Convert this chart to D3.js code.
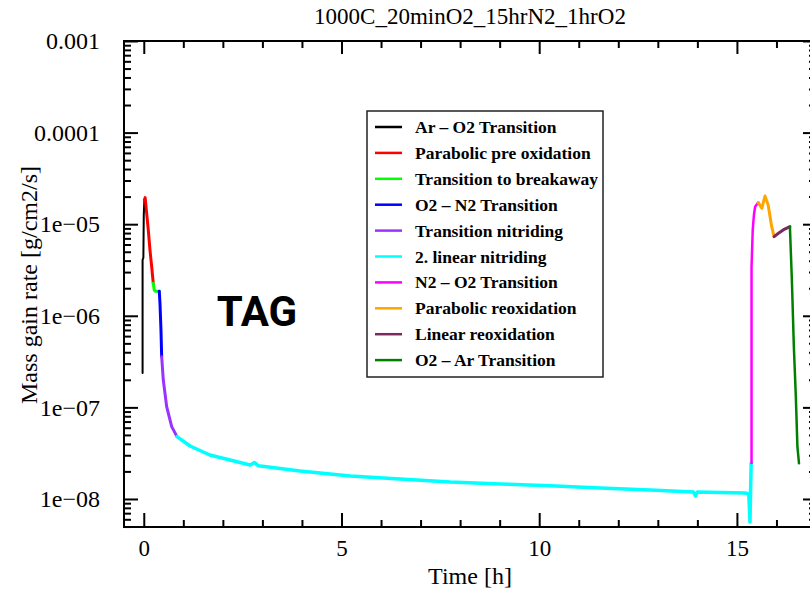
<!DOCTYPE html>
<html><head><meta charset="utf-8">
<script src="https://cdn.jsdelivr.net/npm/d3@7"></script>
<style>body{margin:0;background:#fff}svg{display:block}</style>
</head><body><svg id="c" width="810" height="589"></svg>
<script>
// ---- data (time [h], mass gain rate [g/cm2/s]) ----
const titleText = "1000C_20minO2_15hrN2_1hrO2";
const xLabel = "Time [h]";
const yLabel = "Mass gain rate [g/cm2/s]";
const xTickValues = [0, 5, 10, 15];
const xTickLabels = ["0", "5", "10", "15"];
const yTickValues = [1e-3, 1e-4, 1e-5, 1e-6, 1e-7, 1e-8];
const yTickLabels = ["0.001", "0.0001", "1e\u221205", "1e\u221206", "1e\u221207", "1e\u221208"];

const arO2T = [-0.03, -0.03, -0.01, 0.0, 0.015];
const arO2V = [2.38e-7, 4.07e-6, 4.3e-6, 1.26e-5, 1.84e-5];
const paraPreT = [0.015, 0.035, 0.073, 0.114, 0.157, 0.2, 0.24];
const paraPreV = [1.84e-5, 1.95e-5, 1.32e-5, 8.65e-6, 5.22e-6, 3.44e-6, 2.26e-6];
const breakT = [0.24, 0.265, 0.3, 0.392];
const breakV = [2.26e-6, 1.91e-6, 1.85e-6, 1.85e-6];
const o2n2T = [0.392, 0.41, 0.435, 0.453];
const o2n2V = [1.85e-6, 1.37e-6, 7.0e-7, 3.57e-7];
const transNitT = [0.453, 0.493, 0.579, 0.706, 0.84];
const transNitV = [3.57e-7, 2.0e-7, 1.02e-7, 6.17e-8, 4.79e-8];
const linNitT = [0.84, 1.17, 1.67, 2.69, 2.8, 2.9, 3.95, 5.22, 6.48, 7.75, 9.01, 10.28, 11.54, 12.81, 13.9, 13.95, 14.0, 15.2, 15.3, 15.33, 15.36, 15.37];
const linNitV = [4.79e-8, 3.79e-8, 3.02e-8, 2.35e-8, 2.5e-8, 2.3e-8, 2.02e-8, 1.78e-8, 1.65e-8, 1.53e-8, 1.46e-8, 1.39e-8, 1.32e-8, 1.25e-8, 1.19e-8, 1.08e-8, 1.19e-8, 1.16e-8, 1.14e-8, 5.6e-9, 2.47e-8, 2.47e-8];
const n2o2T = [15.37, 15.37, 15.40, 15.43, 15.46, 15.54];
const n2o2V = [2.47e-8, 3.41e-6, 8.65e-6, 1.26e-5, 1.55e-5, 1.72e-5];
const paraReT = [15.54, 15.63, 15.71, 15.79, 15.88, 15.94];
const paraReV = [1.72e-5, 1.49e-5, 2.03e-5, 1.62e-5, 9.4e-6, 7.31e-6];
const linReT = [15.94, 16.05, 16.17, 16.34];
const linReV = [7.31e-6, 7.96e-6, 8.65e-6, 9.4e-6];
const o2ArT = [16.34, 16.39, 16.44, 16.49, 16.53, 16.57];
const o2ArV = [9.4e-6, 2.46e-6, 4.6e-7, 1.31e-7, 3.72e-8, 2.45e-8];

const seriesNames = ["Ar \u2013 O2 Transition", "Parabolic pre oxidation", "Transition to breakaway",
  "O2 \u2013 N2 Transition", "Transition nitriding", "2. linear nitriding", "N2 \u2013 O2 Transition",
  "Parabolic reoxidation", "Linear reoxidation", "O2 \u2013 Ar Transition"];
const seriesColors = ["#000000", "#ff0000", "#00ff00", "#0000ff", "#9933ff", "#00ffff", "#ff00ff", "#ffa500", "#7a2a5e", "#008000"];
const seriesT = [arO2T, paraPreT, breakT, o2n2T, transNitT, linNitT, n2o2T, paraReT, linReT, o2ArT];
const seriesV = [arO2V, paraPreV, breakV, o2n2V, transNitV, linNitV, n2o2V, paraReV, linReV, o2ArV];
const seriesW = [2, 3, 3, 3, 3, 3.5, 2.5, 3, 3, 2.5];

// ---- layout ----
const L = 124, R = 816, T = 41, B = 527;
const svg = d3.select("#c");
const x = d3.scaleLinear().domain([-0.5, 17]).range([L, R]);
const y = d3.scaleLog().domain([Math.pow(10, -8.306), 1e-3]).range([B, T]);

const serif = "'Liberation Serif', 'Times New Roman', serif";

// minor ticks
const xMinor = d3.range(0, 17.01, 1).filter(v => v % 5 !== 0);
const yMinor = [];
for (let e = -9; e <= -4; e++) for (let m = 2; m <= 9; m++) {
  const v = m * Math.pow(10, e);
  if (v >= y.domain()[0] && v <= y.domain()[1]) yMinor.push(v);
}

function styleAxis(g) {
  g.select(".domain").remove();
  g.selectAll(".tick line").attr("stroke", "#000").attr("stroke-width", 2);
}
// bottom
svg.append("g").attr("transform", `translate(0,${B})`)
  .call(d3.axisBottom(x).tickValues(xTickValues).tickSizeInner(-14).tickSizeOuter(0)
    .tickPadding(13).tickFormat((d, i) => xTickLabels[i]))
  .call(styleAxis)
  .call(g => g.selectAll("text").attr("font-family", serif).attr("font-size", 23).attr("fill", "#000"));
svg.append("g").attr("transform", `translate(0,${B})`)
  .call(d3.axisBottom(x).tickValues(xMinor).tickSizeInner(-7).tickSizeOuter(0).tickFormat(""))
  .call(styleAxis);
// top
svg.append("g").attr("transform", `translate(0,${T})`)
  .call(d3.axisTop(x).tickValues(xTickValues).tickSizeInner(-13).tickSizeOuter(0).tickFormat(""))
  .call(styleAxis);
svg.append("g").attr("transform", `translate(0,${T})`)
  .call(d3.axisTop(x).tickValues(xMinor).tickSizeInner(-7).tickSizeOuter(0).tickFormat(""))
  .call(styleAxis);
// left
svg.append("g").attr("transform", `translate(${L},0)`)
  .call(d3.axisLeft(y).tickValues(yTickValues).tickSizeInner(-14).tickSizeOuter(0)
    .tickPadding(24).tickFormat((d, i) => yTickLabels[i]))
  .call(styleAxis)
  .call(g => g.selectAll("text").attr("font-family", serif).attr("font-size", 24).attr("fill", "#000"));
svg.append("g").attr("transform", `translate(${L},0)`)
  .call(d3.axisLeft(y).tickValues(yMinor).tickSizeInner(-7).tickSizeOuter(0).tickFormat(""))
  .call(styleAxis);
// right
svg.append("g").attr("transform", `translate(${R},0)`)
  .call(d3.axisRight(y).tickValues(yTickValues).tickSizeInner(-13).tickSizeOuter(0).tickFormat(""))
  .call(styleAxis);
svg.append("g").attr("transform", `translate(${R},0)`)
  .call(d3.axisRight(y).tickValues(yMinor).tickSizeInner(-7).tickSizeOuter(0).tickFormat(""))
  .call(styleAxis);

// frame
svg.append("rect").attr("x", L).attr("y", T).attr("width", R - L).attr("height", B - T)
  .attr("fill", "none").attr("stroke", "#000").attr("stroke-width", 2);

// data lines
const line = d3.line().x(d => x(d[0])).y(d => y(d[1]));
seriesT.forEach((ts, i) => {
  const pts = ts.map((t, j) => [t, seriesV[i][j]]);
  svg.append("path").datum(pts).attr("d", line).attr("fill", "none")
    .attr("stroke", seriesColors[i]).attr("stroke-width", seriesW[i])
    .attr("stroke-linejoin", "round").attr("stroke-linecap", "round");
});

// title & labels
svg.append("text").attr("x", (L + R) / 2).attr("y", 24).attr("text-anchor", "middle")
  .attr("font-family", serif).attr("font-size", 23).text(titleText);
svg.append("text").attr("x", (L + R) / 2).attr("y", 584).attr("text-anchor", "middle")
  .attr("font-family", serif).attr("font-size", 24).text(xLabel);
svg.append("text").attr("transform", "translate(37,285) rotate(-90)").attr("text-anchor", "middle")
  .attr("font-family", serif).attr("font-size", 24).text(yLabel);

// TAG annotation
svg.append("text").attr("x", 257).attr("y", 326).attr("text-anchor", "middle")
  .attr("font-family", "Roboto, 'Open Sans', sans-serif").attr("font-weight", "bold")
  .attr("font-size", 42).text("TAG");

// legend
const lg = svg.append("g");
lg.append("rect").attr("x", 367).attr("y", 111).attr("width", 236).attr("height", 266)
  .attr("fill", "#fff").attr("stroke", "#222").attr("stroke-width", 1.5);
seriesNames.forEach((n, i) => {
  const yy = 127 + i * 25.9;
  lg.append("line").attr("x1", 375).attr("x2", 402).attr("y1", yy).attr("y2", yy)
    .attr("stroke", seriesColors[i]).attr("stroke-width", 2.5);
  lg.append("text").attr("x", 415).attr("y", yy + 6).attr("font-family", serif)
    .attr("font-weight", "bold").attr("font-size", 17.5).text(n);
});
</script></body></html>
